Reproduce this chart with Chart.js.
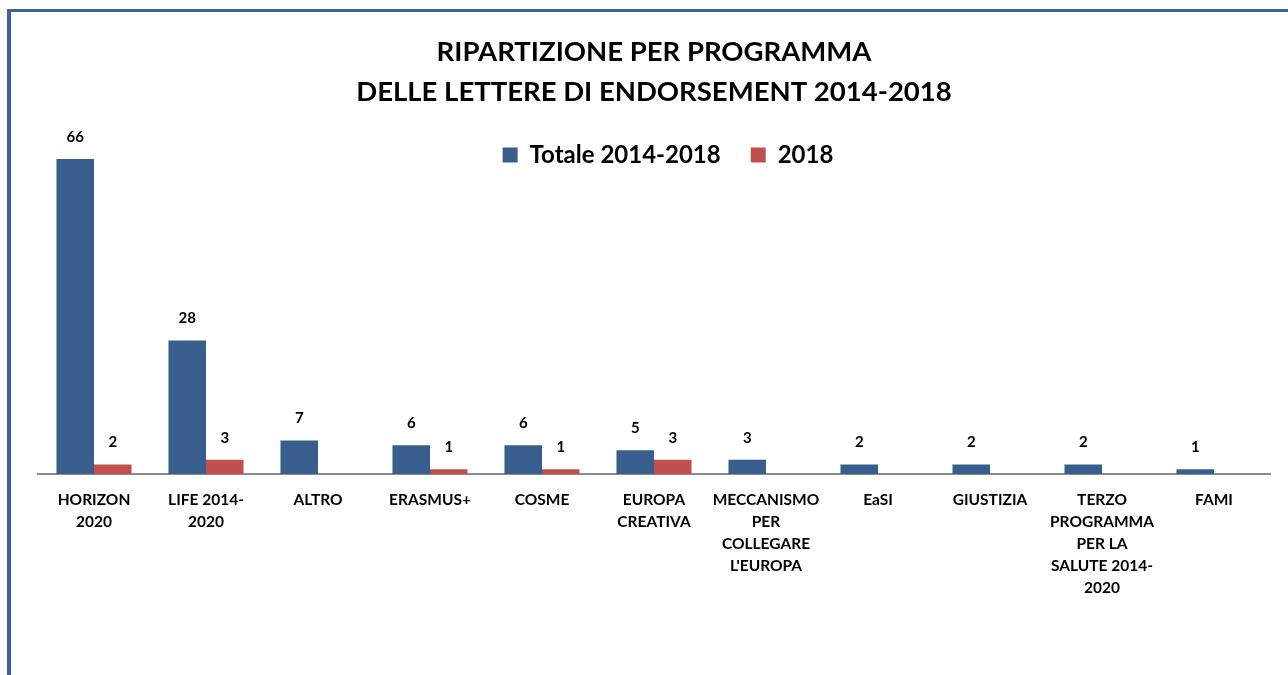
<!DOCTYPE html>
<html>
<head>
<meta charset="utf-8">
<script src="https://cdn.jsdelivr.net/npm/chart.js@4.4.1/dist/chart.umd.min.js"></script>
<style>
  html, body { margin: 0; padding: 0; background: #fff; overflow: hidden; }
  #frame {
    position: absolute; left: 7px; top: 9px; width: 1320px; height: 720px;
    border-left: 4px solid #3b6395; border-top: 3px solid #3b6395;
  }
  #chart { position: absolute; left: 0; top: 0; }
</style>
</head>
<body>
<div id="frame"></div>
<canvas id="chart" width="1288" height="675"></canvas>
<script>
// chart data
const categories = [
  ['HORIZON', '2020'],
  ['LIFE 2014-', '2020'],
  'ALTRO',
  'ERASMUS+',
  'COSME',
  ['EUROPA', 'CREATIVA'],
  ['MECCANISMO', 'PER', 'COLLEGARE', "L'EUROPA"],
  'EaSI',
  'GIUSTIZIA',
  ['TERZO', 'PROGRAMMA', 'PER LA', 'SALUTE 2014-', '2020'],
  'FAMI'
];
const totale = [66, 28, 7, 6, 6, 5, 3, 2, 2, 2, 1];
const anno2018 = [2, 3, null, 1, 1, 3, null, null, null, null, null];
const seriesNames = ['Totale 2014-2018', '2018'];
const titleLines = ['RIPARTIZIONE PER PROGRAMMA', 'DELLE LETTERE DI ENDORSEMENT 2014-2018'];

const FONT = "Lato, 'Open Sans', sans-serif";

// value labels above each bar
const barLabels = {
  id: 'barLabels',
  afterDatasetsDraw(chart) {
    const ctx = chart.ctx;
    ctx.save();
    ctx.font = 'bold 15px ' + FONT;
    ctx.fillStyle = '#000';
    ctx.textAlign = 'center';
    ctx.textBaseline = 'middle';
    chart.data.datasets.forEach((ds, i) => {
      chart.getDatasetMeta(i).data.forEach((bar, j) => {
        const v = ds.data[j];
        if (v == null) return;
        ctx.fillText(String(v), bar.x, bar.y - 22);
      });
    });
    ctx.restore();
  }
};

// let the legend overlap the top of the plot, like the original
const shortLegend = {
  id: 'shortLegend',
  beforeUpdate(chart) {
    const lg = chart.legend;
    if (!lg || lg._short) return;
    const fit = lg.fit;
    lg.fit = function () {
      fit.call(this);
      this.height = 27;
    };
    lg._short = true;
  },
  afterLayout(chart) {
    const lg = chart.legend;
    // give it room to draw (legend clips to its own box) and nudge right
    lg.height = 70;
    lg.bottom = lg.top + 70;
    lg.left += 14;
    lg.right += 14;
  }
};

new Chart(document.getElementById('chart'), {
  type: 'bar',
  data: {
    labels: categories,
    datasets: [
      { label: seriesNames[0], data: totale, backgroundColor: '#385e8e' },
      { label: seriesNames[1], data: anno2018, backgroundColor: '#c0504d' }
    ]
  },
  options: {
    responsive: false,
    animation: false,
    devicePixelRatio: 1,
    layout: { padding: { left: 38, right: 18, top: 0, bottom: 61 } },
    datasets: { bar: { categoryPercentage: 0.67, barPercentage: 1.0 } },
    plugins: {
      tooltip: { enabled: false },
      title: {
        display: true,
        text: titleLines,
        color: '#000',
        font: { family: FONT, size: 27.5, weight: 'bold', lineHeight: 40 / 27.5 },
        padding: { top: 32, bottom: 1 }
      },
      legend: {
        position: 'top',
        align: 'center',
        labels: {
          color: '#000',
          font: { family: FONT, size: 24, weight: 'bold' },
          boxWidth: 15,
          boxHeight: 15,
          padding: 30
        }
      }
    },
    scales: {
      x: {
        grid: { display: false, drawTicks: false },
        border: { display: true, color: '#8c8c8c', width: 2 },
        ticks: {
          color: '#000',
          font: { family: FONT, size: 15.5, weight: 'bold', lineHeight: 22 / 15.5 },
          padding: 15,
          maxRotation: 0,
          autoSkip: false
        }
      },
      y: {
        display: false,
        min: 0,
        max: 70
      }
    }
  },
  plugins: [barLabels, shortLegend]
});
</script>
</body>
</html>
